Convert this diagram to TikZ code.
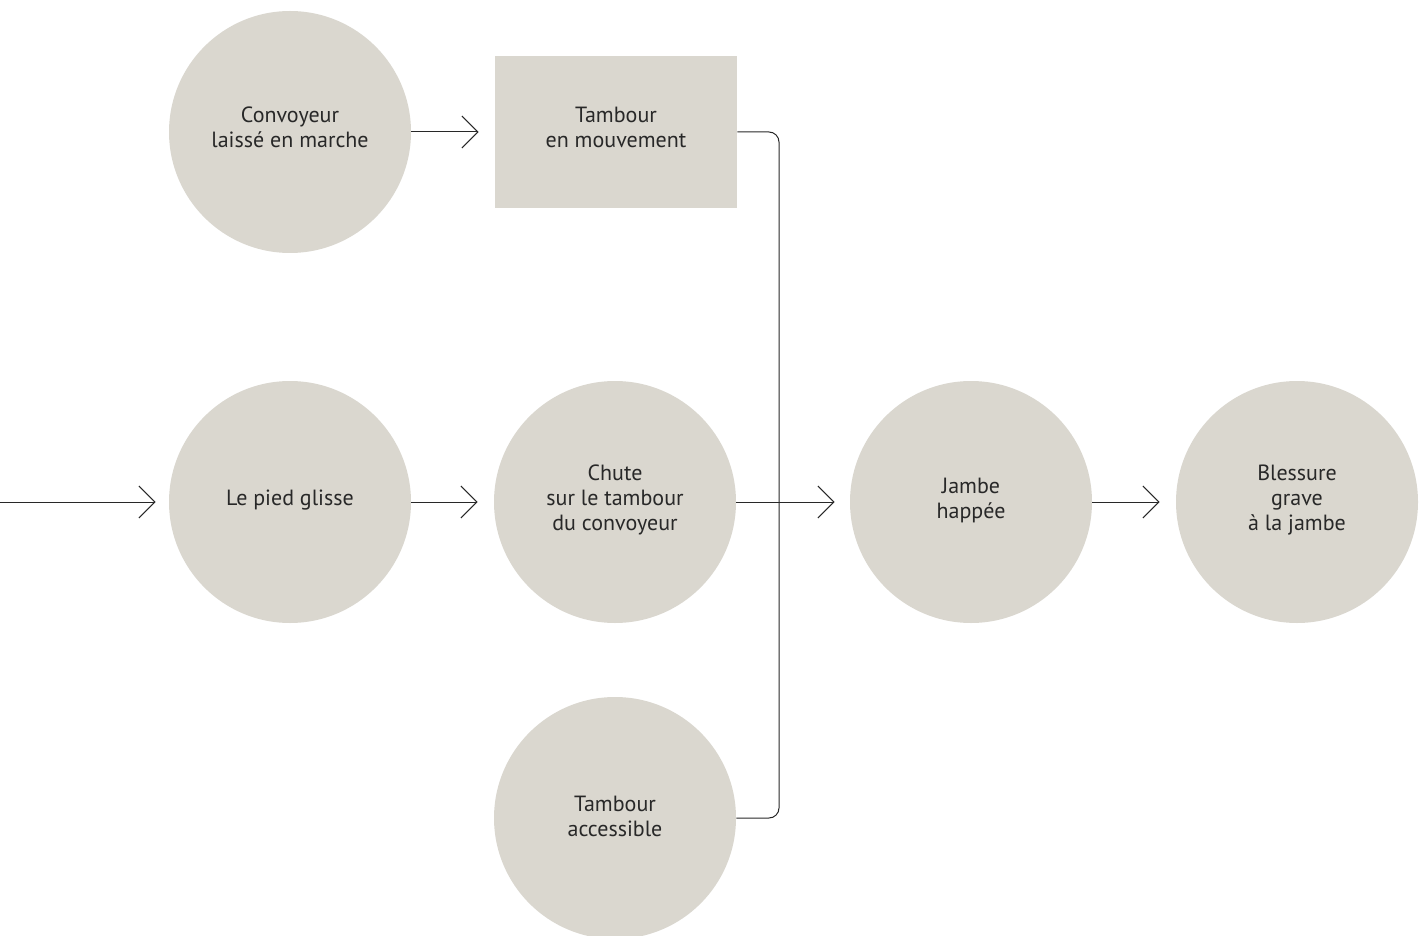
\documentclass[tikz,border=0pt]{standalone}
\usepackage{fontspec}
\setmainfont{PT Sans}
\usetikzlibrary{arrows.meta}
\definecolor{greige}{RGB}{218,215,207}
\definecolor{ink}{RGB}{40,40,40}
\tikzset{every node/.style={font=\fontsize{11}{12.5}\selectfont, text=ink, align=center},
  event/.style={circle, fill=greige, minimum size=121pt, inner sep=0pt},
  state/.style={rectangle, fill=greige, minimum width=121pt, minimum height=76pt, inner sep=0pt},
  tag/.style={yshift=1pt},
  toprow/.style={yshift=2.5pt},
  link/.style={draw=ink, line width=0.5pt},
  arr/.style={link, -{Straight Barb[length=8pt,width=16pt,line width=0.5pt]}}}

\begin{document}
\begin{tikzpicture}[x=0.5pt,y=-0.5pt]
  \useasboundingbox (0,0) rectangle (1419,936);
  % top row
  \node[event, label={[toprow]center:Convoyeur\\laissé en marche}] (conv) at (290,132) {};
  \node[state, label={[toprow]center:Tambour\\en mouvement}] (mouv) at (616,132) {};
  % middle row
  \coordinate (start) at (0,502);
  \node[event, label={[tag]center:Le pied glisse}] (pied) at (290,502) {};
  \node[event, label={[tag]center:Chute\\sur le tambour\\du convoyeur}] (chute) at (615,502) {};
  \node[event, label={[tag]center:Jambe\\happée}] (jambe) at (971,502) {};
  \node[event, label={[tag]center:Blessure\\grave\\à la jambe}] (bless) at (1297,502) {};
  % bottom row
  \node[event, label={[tag]center:Tambour\\accessible}] (acc) at (615,818) {};
  \coordinate (bus) at (779,502);

  \draw[arr, shorten >=8pt] (conv) -- (mouv);
  \draw[arr, shorten >=6.5pt] (start) -- (pied);
  \draw[arr, shorten >=8pt] (pied) -- (chute);
  \draw[arr, shorten >=7.5pt] (chute) -- (jambe);
  \draw[arr, shorten >=8pt] (jambe) -- (bless);
  \draw[link, rounded corners=5pt] (mouv.east) -| (bus) |- (acc.east);
\end{tikzpicture}
\end{document}
